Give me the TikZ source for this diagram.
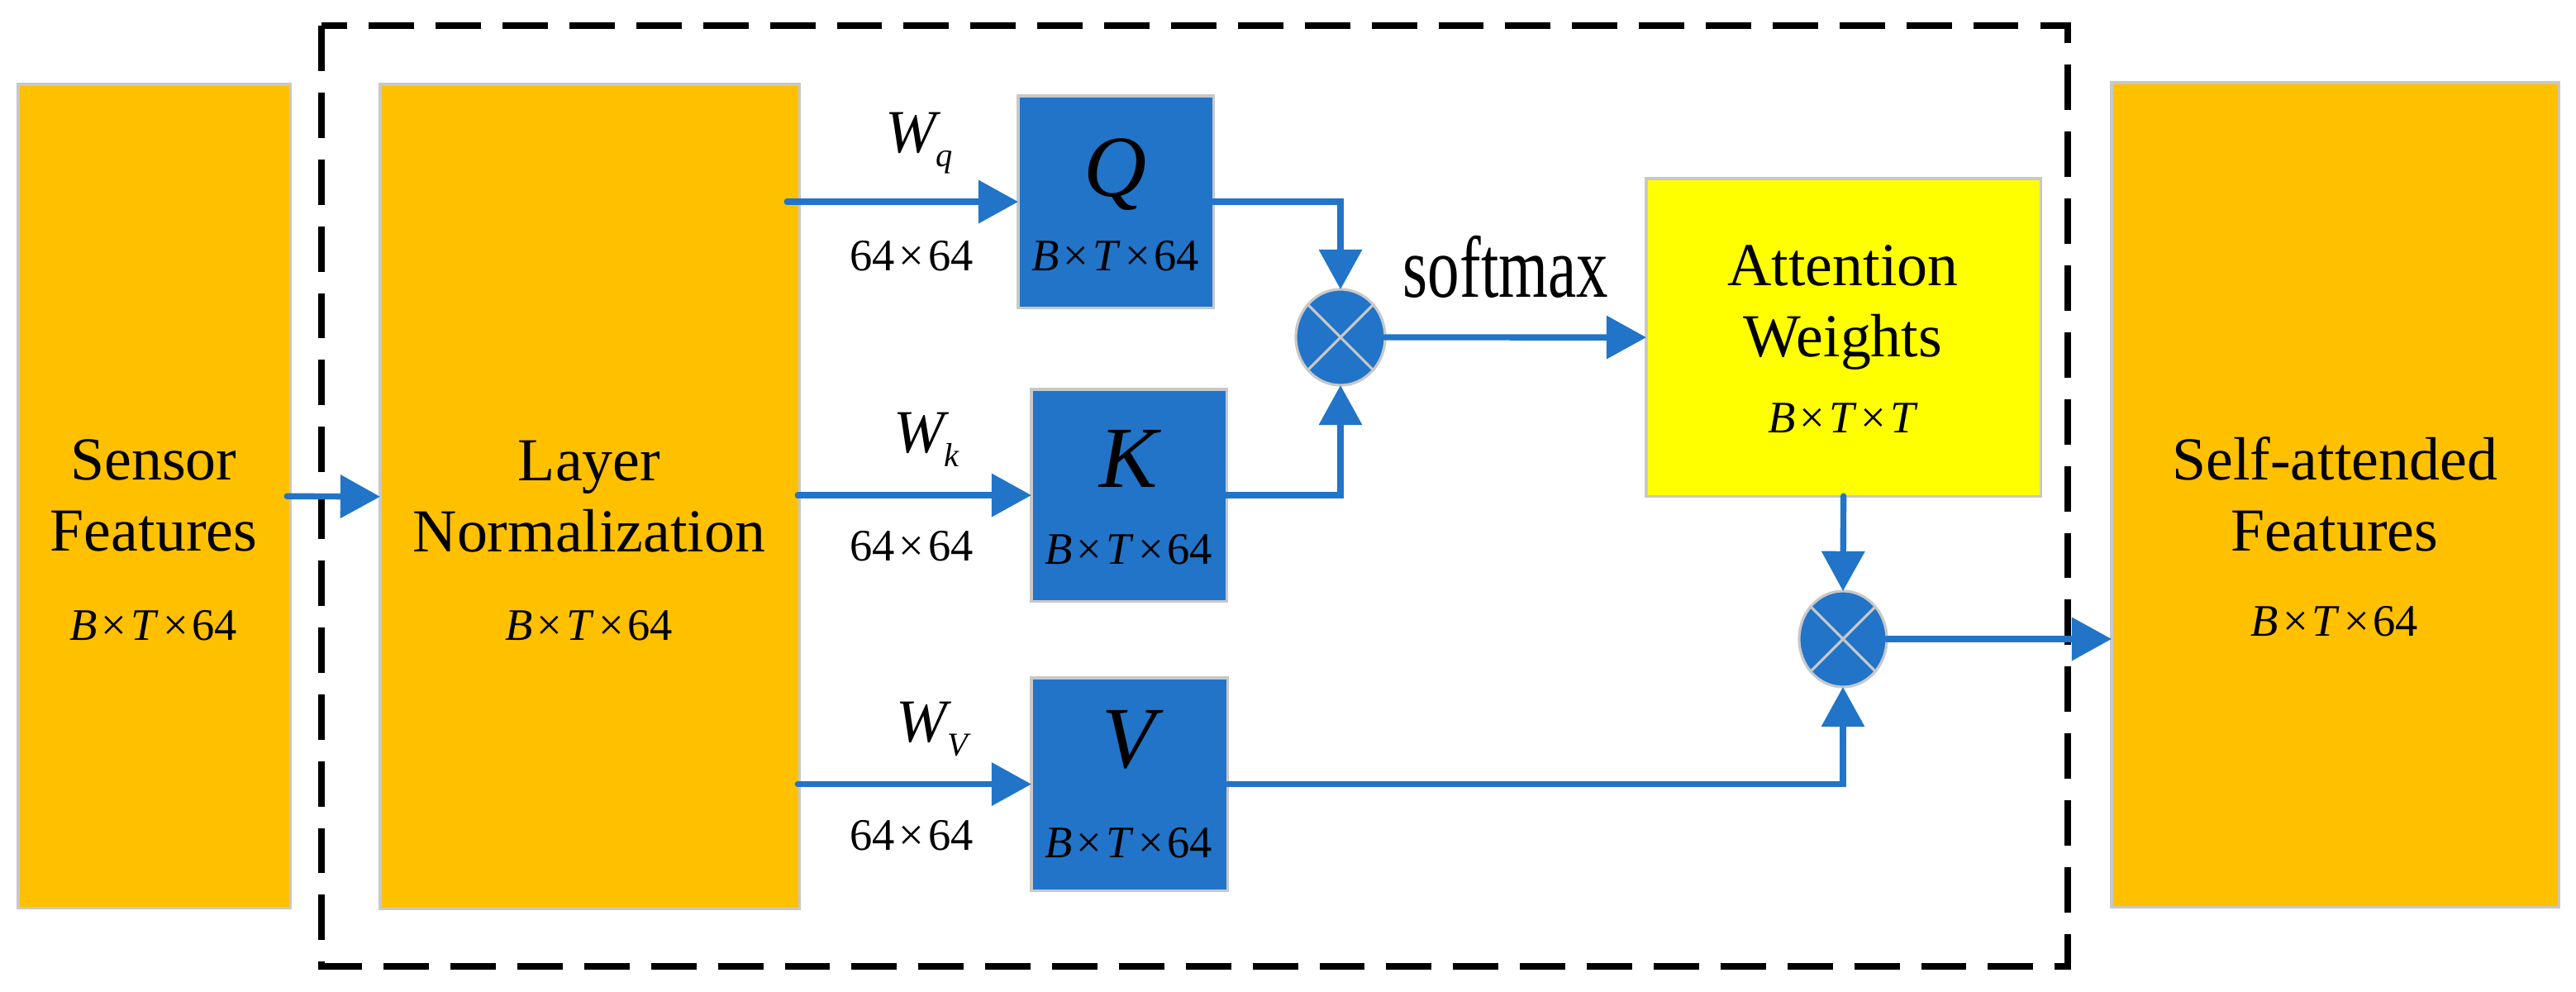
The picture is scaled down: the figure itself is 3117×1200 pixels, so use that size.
\documentclass[tikz,border=0pt]{standalone}
\usepackage{fontspec}
\setmainfont{Liberation Serif}
\newfontfamily\tnr{Liberation Serif}
\usepackage{graphicx}
\usetikzlibrary{arrows.meta,shapes.geometric}
\definecolor{oran}{RGB}{255,192,0}
\definecolor{bblue}{RGB}{33,116,200}
\definecolor{yel}{RGB}{255,255,0}
\definecolor{bord}{RGB}{200,200,200}
\newcommand\xx{\hspace{0.09em}×\hspace{0.09em}}
\newcommand\fsz[1]{\tnr\fontsize{#1}{#1}\selectfont}
\newcommand\wlab[1]{W\raisebox{-5.1pt}{\fsz{11.5}\itshape #1}}
\begin{document}
\begin{tikzpicture}[x=0.01cm,y=-0.01cm,
  box/.style={draw=bord, line width=0.9pt, anchor=north west, inner sep=0pt, outer sep=0pt},
  obox/.style={box, fill=oran},
  bbox/.style={box, fill=bblue},
  ybox/.style={box, fill=yel},
  mult/.style={ellipse, draw=bord, line width=0.9pt, fill=bblue, minimum width=1.08cm, minimum height=1.16cm, inner sep=0pt, outer sep=0pt},
  cross/.style={draw=bord, line width=0.9pt},
  arr/.style={draw=bblue, line width=2.1pt, line cap=round, -{Triangle[length=13.7pt,width=14.5pt]}},
  big/.style={anchor=base, font=\fsz{21}\upshape},
  dimt/.style={anchor=base, font=\fsz{15.5}\upshape},
  letter/.style={anchor=base, font=\fsz{30}\itshape},
  wl/.style={anchor=base, font=\fsz{21}\itshape},
  frame/.style={draw=black, line width=2.3pt, dash pattern=on 15.6pt off 7.4pt}
]
\useasboundingbox (0,0) rectangle (3117,1200);
\fill[white] (0,0) rectangle (3117,1200);

% dashed frame
\draw[frame] (389,31) rectangle (2502,1169);

% boxes
\node[obox, minimum width=3.29cm, minimum height=9.96cm] (sensor) at (22,102) {};
\node[obox, minimum width=5.07cm, minimum height=9.97cm] (ln) at (460,102) {};
\node[bbox, minimum width=2.36cm, minimum height=2.56cm] (q) at (1232,116) {};
\node[bbox, minimum width=2.36cm, minimum height=2.56cm] (k) at (1248,471) {};
\node[bbox, minimum width=2.37cm, minimum height=2.57cm] (v) at (1248,820) {};
\node[ybox, minimum width=4.77cm, minimum height=3.84cm] (attn) at (1992,216) {};
\node[obox, minimum width=5.41cm, minimum height=9.97cm] (self) at (2555,100) {};

% multiplication nodes
\node[mult] (c1) at (1622,408) {};
\draw[cross] (c1.45) -- (c1.225) (c1.135) -- (c1.-45);
\node[mult, minimum width=1.06cm] (c2) at (2230,773) {};
\draw[cross] (c2.45) -- (c2.225) (c2.135) -- (c2.-45);

% texts
\node[big] (t1) at (186,580) {Sensor};
\node[big] (t2) at (186,666) {Features};
\node[dimt] (t3) at (186,774) {\textit{B}\xx\textit{T}\xx64};

\node[big] (t4) at (713,581) {Layer};
\node[big] (t5) at (713,667) {Normalization};
\node[dimt] (t6) at (713,774) {\textit{B}\xx\textit{T}\xx64};

\node[letter] (tq) at (1350,237) {Q};
\node[dimt] (tq2) at (1350,327) {\textit{B}\xx\textit{T}\xx64};
\node[letter] (tk) at (1366,589) {K};
\node[dimt] (tk2) at (1366,682) {\textit{B}\xx\textit{T}\xx64};
\node[letter] (tv) at (1366,928) {V};
\node[dimt] (tv2) at (1366,1037) {\textit{B}\xx\textit{T}\xx64};

\node[wl] (wq) at (1112,184) {\wlab{q}};
\node[wl] (wk) at (1121,547) {\wlab{k}};
\node[wl] (wv) at (1128,897) {\wlab{V}};
\node[dimt] (m1) at (1103,327) {64\xx64};
\node[dimt] (m2) at (1103,678) {64\xx64};
\node[dimt] (m3) at (1103,1028) {64\xx64};

\node[anchor=base, font=\fsz{30}\upshape] (sm) at (1822,359) {\scalebox{0.73}[1]{softmax}};

\node[big] (a1) at (2230,345) {Attention};
\node[big] (a2) at (2230,431) {Weights};
\node[dimt] (a3) at (2230,523) {\textit{B}\xx\textit{T}\xx\textit{T}};

\node[big] (s1) at (2825,580) {Self-attended};
\node[big] (s2) at (2825,666) {Features};
\node[dimt] (s3) at (2825,769) {\textit{B}\xx\textit{T}\xx64};

% connectors
\draw[arr] ([xshift=-0.04cm]sensor.east) -- (ln.west);
\draw[arr] ([xshift=-0.15cm]ln.east |- q.west) -- (q.west);
\draw[arr] ([xshift=-0.02cm]ln.east |- k.west) -- (k.west);
\draw[arr] ([xshift=-0.02cm]ln.east |- v.west) -- (v.west);
\draw[arr] (q.east) -| (c1.north);
\draw[arr] (k.east) -| (c1.south);
\draw[arr] (c1.east) -- (attn.west);
\draw[arr] (attn.south) -- (c2.north);
\draw[arr] (v.east) -| (c2.south);
\draw[arr] (c2.east) -- (c2.east -| self.west);
\end{tikzpicture}
\end{document}
